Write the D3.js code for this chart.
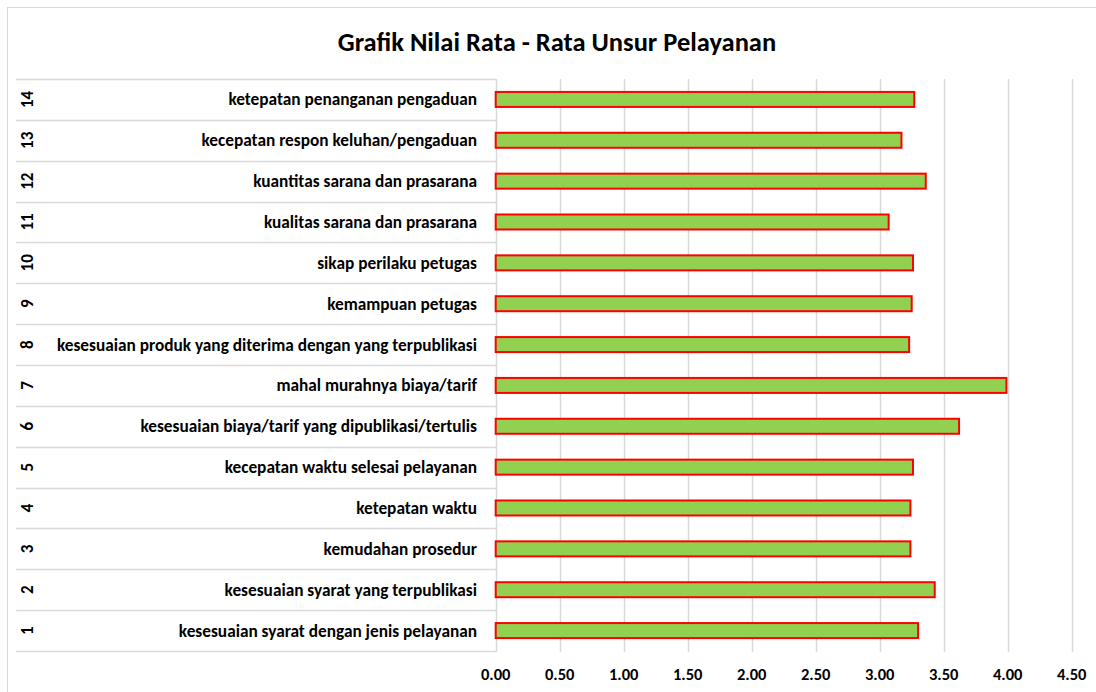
<!DOCTYPE html>
<meta charset='utf-8'>
<title>Grafik Nilai Rata - Rata Unsur Pelayanan</title>
<style>
body {
  margin: 0;
  background-color: #fff;
}
text {
  font-family: Carlito, "Open Sans", "Liberation Sans", sans-serif;
  font-weight: bold;
  fill: #000;
}
</style>
<svg width="1096" height="692"></svg>
<script src="https://d3js.org/d3.v7.min.js"></script>
<script>

// chart values
var nomor = [1, 2, 3, 4, 5, 6, 7, 8, 9, 10, 11, 12, 13, 14];
var unsur = [
  "kesesuaian syarat dengan jenis pelayanan",
  "kesesuaian syarat yang terpublikasi",
  "kemudahan prosedur",
  "ketepatan waktu",
  "kecepatan waktu selesai pelayanan",
  "kesesuaian biaya/tarif yang dipublikasi/tertulis",
  "mahal murahnya biaya/tarif",
  "kesesuaian produk yang diterima dengan yang terpublikasi",
  "kemampuan petugas",
  "sikap perilaku petugas",
  "kualitas sarana dan prasarana",
  "kuantitas sarana dan prasarana",
  "kecepatan respon keluhan/pengaduan",
  "ketepatan penanganan pengaduan"
];
var nilai = [3.30, 3.43, 3.24, 3.24, 3.26, 3.62, 3.99, 3.23, 3.25, 3.26, 3.07, 3.36, 3.17, 3.27];
var ticks = [0, 0.5, 1, 1.5, 2, 2.5, 3, 3.5, 4, 4.5];

var svg = d3.select("svg");
var grid = "#d9d9d9";

// chart frame (runs past the right edge of the window)
svg.append("rect")
    .attr("x", 7.5)
    .attr("y", 7.5)
    .attr("width", 1120)
    .attr("height", 720)
    .attr("fill", "#fff")
    .attr("stroke", grid);

svg.append("text")
    .attr("x", 557)
    .attr("y", 51)
    .attr("text-anchor", "middle")
    .style("font-size", "26.5px")
    .text("Grafik Nilai Rata - Rata Unsur Pelayanan");

var x = d3.scaleLinear()
    .domain([0, 4.5])
    .range([495.7, 1071.7]);

var y = d3.scaleBand()
    .domain(nomor.slice().reverse())
    .range([79, 651]);

var data = nomor.map(function(n, i) {
  return { no: n, label: unsur[i], value: nilai[i] };
});

// vertical gridlines
svg.append("g")
  .selectAll("line")
    .data(ticks)
  .enter().append("line")
    .attr("x1", function(d) { return Math.round(x(d)) + 0.5; })
    .attr("x2", function(d) { return Math.round(x(d)) + 0.5; })
    .attr("y1", 79)
    .attr("y2", 652)
    .attr("stroke", grid)
    .attr("stroke-width", 1.5);

// category table lines
var edges = nomor.map(function(n) { return y(n); }).concat([y.range()[1]]);
svg.append("g")
  .selectAll("line")
    .data(edges)
  .enter().append("line")
    .attr("x1", 16)
    .attr("x2", 496)
    .attr("y1", function(d) { return Math.round(d) + 0.5; })
    .attr("y2", function(d) { return Math.round(d) + 0.5; })
    .attr("stroke", grid)
    .attr("stroke-width", 1.5);

// x tick labels
svg.append("g")
  .selectAll("text")
    .data(ticks)
  .enter().append("text")
    .attr("x", function(d) { return x(d); })
    .attr("y", 680)
    .attr("text-anchor", "middle")
    .style("font-size", "16.5px")
    .text(d3.format(".2f"));

// category labels
var rows = svg.append("g")
  .selectAll("g")
    .data(data)
  .enter().append("g")
    .attr("transform", function(d) { return "translate(0," + (y(d.no) + y.bandwidth() / 2) + ")"; });

rows.append("text")
    .attr("x", 477)
    .attr("dy", "0.35em")
    .attr("text-anchor", "end")
    .style("font-size", "17.3px")
    .text(function(d) { return d.label; });

rows.append("text")
    .attr("transform", "translate(27,0) rotate(-90)")
    .attr("dy", "0.35em")
    .attr("text-anchor", "middle")
    .style("font-size", "17px")
    .text(function(d) { return d.no; });

// bars
var barH = 15;
svg.append("g")
  .selectAll("rect")
    .data(data)
  .enter().append("rect")
    .attr("x", x(0))
    .attr("y", function(d) { return y(d.no) + y.bandwidth() / 2 - barH / 2; })
    .attr("width", function(d) { return x(d.value) - x(0); })
    .attr("height", barH)
    .attr("fill", "#92d050")
    .attr("stroke", "#ff0000")
    .attr("stroke-width", 2);

</script>
